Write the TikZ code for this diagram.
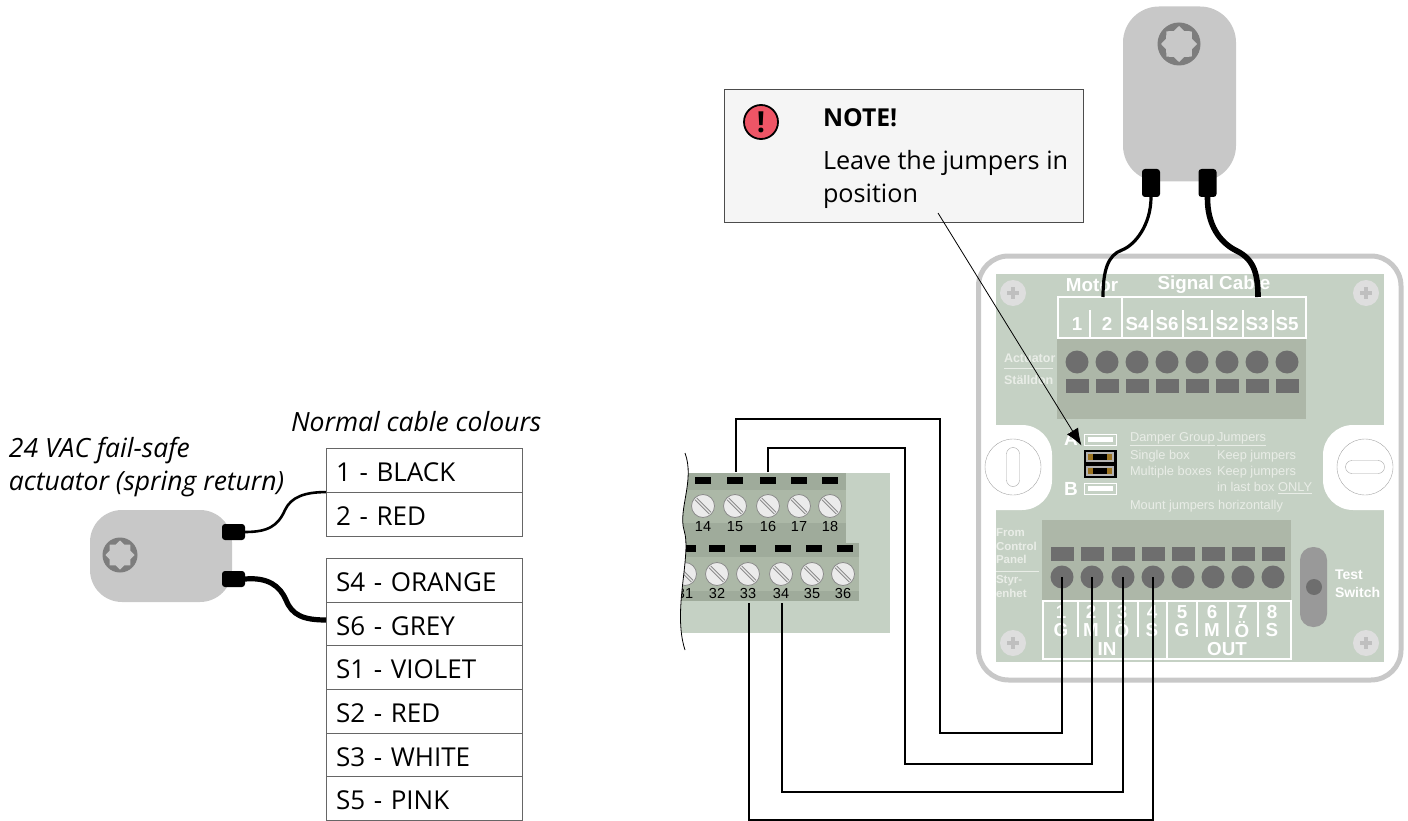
\documentclass[tikz,border=0pt]{standalone}
\usepackage{fontspec}
\setmainfont{Open Sans}
\newfontfamily\boxfont{Liberation Sans}
\usetikzlibrary{arrows.meta,shapes.geometric}
\tikzset{>={Latex[length=17pt,width=13pt]}}
\definecolor{panelgreen}{HTML}{C5D1C4}
\definecolor{blockgreen}{HTML}{ADB7A8}
\definecolor{darkband}{HTML}{9FAB9B}
\definecolor{midband}{HTML}{ACB8A7}
\definecolor{termgrey}{HTML}{6E6E6E}
\definecolor{actgrey}{HTML}{C8C8C8}
\definecolor{paletext}{HTML}{E9EDE7}
\definecolor{alertred}{HTML}{EE5566}
\definecolor{jumperbrown}{HTML}{9C7420}
\tikzstyle{plain}=[inner sep=0pt,outer sep=0pt]
\tikzstyle{tablecell}=[plain,draw=black!60,thick,fill=white,minimum width=196,minimum height=43.8,text width=176,text height=22,text depth=0,align=left,font=\fontsize{26}{30}\selectfont]
\tikzstyle{caption}=[plain,anchor=west,font=\fontsize{26.5}{30}\selectfont\itshape]
\tikzstyle{actuator}=[plain,fill=actgrey,rounded corners=32pt]
\tikzstyle{gearring}=[plain,circle,fill=termgrey!90]
\tikzstyle{gearstar}=[plain,star,star points=8,star point ratio=1.3,fill=actgrey]
\tikzstyle{plug}=[plain,fill=black,rounded corners=3pt]
\tikzstyle{thincable}=[line width=2.6pt]
\tikzstyle{thickcable}=[line width=5.2pt]
\tikzstyle{wire}=[line width=2.4pt]
\tikzstyle{termhole}=[plain,circle,fill=termgrey,minimum size=23]
\tikzstyle{termtab}=[plain,fill=termgrey,minimum width=23,minimum height=14]
\tikzstyle{blacktab}=[plain,fill=black,minimum width=16,minimum height=7]
\tikzstyle{boxlabel}=[plain,text=white,font=\boxfont\bfseries\fontsize{18.8}{22}\selectfont]
\tikzstyle{sidelabel}=[plain,anchor=west,text=paletext,font=\boxfont\bfseries\fontsize{11.5}{14}\selectfont]
\tikzstyle{jumpertext}=[plain,anchor=west,text=paletext,font=\boxfont\fontsize{12.8}{15}\selectfont]
\tikzstyle{notetext}=[plain,anchor=base west,font=\fontsize{25.2}{30}\selectfont]
\tikzstyle{whiteline}=[white,line width=1.5pt]
\tikzstyle{cornerscrew}=[plain,circle,fill=black!13,minimum size=26]
\tikzstyle{knockout}=[plain,circle,draw=black!35,fill=white,minimum size=56]
\tikzstyle{slot}=[plain,draw=black!35,fill=white,rounded corners=6.5pt]
\tikzstyle{screwhead}=[plain,circle,draw=black!45,thick,fill=black!8,minimum size=23]
\tikzstyle{screwcut}=[draw=black!45,double=black!8,double distance=1.4pt,line width=1pt]
\tikzstyle{termnum}=[plain,font=\boxfont\fontsize{14.5}{16}\selectfont]
\tikzstyle{jumpslot}=[plain,draw=white,minimum width=32,minimum height=11]
\tikzstyle{jumpfill}=[plain,fill=white,minimum width=25,minimum height=5.5]
\begin{document}
\begin{tikzpicture}[x=1pt,y=-1pt]
	\useasboundingbox (0,0) rectangle (1408,821);

	% cable table
	\node[caption] (title) at (9,450.5) {24 VAC fail-safe};
	\node[caption] (title2) at (9,484) {actuator (spring return)};
	\node[caption] (normal) at (291,422) {Normal cable colours};
	\node[tablecell] (rowm1) at (424,470) {1 - BLACK};
	\node[tablecell] (rowm2) at (424,514) {2 - RED};
	\node[tablecell] (rows4) at (424,580) {S4 - ORANGE};
	\node[tablecell] (rows6) at (424,624) {S6 - GREY};
	\node[tablecell] (rows1) at (424,667.5) {S1 - VIOLET};
	\node[tablecell] (rows2) at (424,711) {S2 - RED};
	\node[tablecell] (rows3) at (424,755) {S3 - WHITE};
	\node[tablecell] (rows5) at (424,798) {S5 - PINK};

	% actuator, left
	\node[actuator,minimum width=142,minimum height=92] (actleft) at (161,556) {};
	\node[gearring,minimum size=35] (gearleft) at (120,555) {};
	\node[gearstar,minimum size=29] (starleft) at (120,555) {};
	\node[plug,minimum width=23,minimum height=16] (plugl1) at (233.5,532) {};
	\node[plug,minimum width=23,minimum height=16] (plugl2) at (233.5,579) {};
	\draw[thincable] (plugl1.east) .. controls (268,532) and (278,526) .. (285,510) .. controls (291,497) and (305,492) .. (rowm2.north west);
	\draw[thickcable] (plugl2.east) .. controls (268,577) and (280,586) .. (286,600) .. controls (292,615) and (303,620) .. ([yshift=4pt]rows6.west);

	% control panel terminals
	\fill[panelgreen] (680,473) rectangle (890,633);
	\fill[darkband] (680,473) rectangle (846,543);
	\fill[midband] (680,490) rectangle (846,523);
	\fill[darkband] (680,543) rectangle (859,601);
	\fill[midband] (680,557) rectangle (859,591);
	\foreach \nr/\x in {14/703,15/735,16/768,17/799,18/830} {
		\node[blacktab] (tabu\nr) at (\x,480.5) {};
		\node[screwhead] (scr\nr) at (\x,506) {};
		\draw[screwcut] (\x-7,506-7) -- (\x+7,506+7);
		\node[termnum] (num\nr) at (\x,527) {\nr};
	}
	\foreach \nr/\x/\t in {31/685/688,32/717/717,33/748/748,34/781/783,35/812/814,36/843/845} {
		\node[blacktab] (tabl\nr) at (\t,548) {};
		\node[screwhead] (scr\nr) at (\x,574) {};
		\draw[screwcut] (\x-7,574-7) -- (\x+7,574+7);
		\node[termnum] (num\nr) at (\x,594) {\nr};
	}
	\fill[white] (685,453) .. controls (695,480) and (678,510) .. (684,530) .. controls (692,555) and (672,610) .. (685,650) -- (660,650) -- (660,453) -- cycle;
	\draw[thick] (685,453) .. controls (695,480) and (678,510) .. (684,530) .. controls (692,555) and (672,610) .. (685,650);

	% junction box
	\fill[panelgreen] (996,274) rectangle (1384,662);
	\fill[white,rounded corners=30pt] (960,425) rectangle (1052,510);
	\fill[white,rounded corners=30pt] (1323,425) rectangle (1420,510);
	\fill[white] (960,400) rectangle (995,540);
	\fill[white] (1385,400) rectangle (1420,540);
	\draw[actgrey,line width=5pt,rounded corners=30pt] (978.5,256) rectangle (1401,680);
	\foreach \nr/\x/\y in {1/1013/293,2/1366/293,3/1013/643,4/1366/643} {
		\node[cornerscrew] (corner\nr) at (\x,\y) {};
		\draw[black!25,line width=3.5pt] (\x-6,\y) -- (\x+6,\y);
		\draw[black!25,line width=3.5pt] (\x,\y-6) -- (\x,\y+6);
	}
	\node[knockout] (koleft) at (1013,467) {};
	\node[slot,minimum width=13,minimum height=39] (slotleft) at (1013,467) {};
	\node[knockout] (koright) at (1365,467) {};
	\node[slot,minimum width=39,minimum height=13] (slotright) at (1365,467) {};

	% actuator terminals
	\fill[blockgreen] (1057,338) rectangle (1306,419);
	\node[boxlabel] (motor) at (1092,285) {Motor};
	\node[boxlabel] (signal) at (1214,285) {Signal Cable};
	\draw[whiteline] (1058,297) rectangle (1306,338);
	\draw[whiteline] (1122,297) -- (1122,338);
	\foreach \x in {1090,1152,1183,1212,1243,1273}
		\draw[whiteline] (\x,310) -- (\x,338);
	\foreach \nr/\x/\t in {1/1077/1,2/1107/2,3/1137/S4,4/1167/S6,5/1197/S1,6/1227/S2,7/1257/S3,8/1287/S5} {
		\node[boxlabel] (lab\nr) at (\x,324) {\t};
		\node[termhole] (hole\nr) at (\x,362) {};
		\node[termtab] (tab\nr) at (\x,386) {};
	}
	\node[sidelabel,font=\boxfont\bfseries\fontsize{12.5}{15}\selectfont] (actuatorlab) at (1004,358) {Actuator};
	\node[sidelabel,font=\boxfont\bfseries\fontsize{12.5}{15}\selectfont] (stalldon) at (1004,380) {Ställdon};
	\draw[paletext,thick] (1004,368) -- (1053,368);

	% jumpers
	\node[boxlabel,font=\boxfont\bfseries\fontsize{19}{22}\selectfont] (laba) at (1071,439) {A};
	\node[boxlabel,font=\boxfont\bfseries\fontsize{19}{22}\selectfont] (labb) at (1071,489) {B};
	\node[jumpslot] (slota) at (1100.5,439.5) {};
	\node[jumpfill] (filla) at (1100.5,439.5) {};
	\node[jumpslot] (slotb) at (1100.5,488.5) {};
	\node[jumpfill] (fillb) at (1100.5,488.5) {};
	\node[plain,fill=black,minimum width=33,minimum height=28] (jumpblock) at (1100.5,464) {};
	\foreach \nr/\y in {1/457,2/471} {
		\node[plain,fill=black!30,minimum width=28,minimum height=10] (jumper\nr) at (1100,\y) {};
		\node[plain,fill=jumperbrown,minimum width=24,minimum height=6] (jumperb\nr) at (1100,\y) {};
		\node[plain,fill=black,minimum width=14,minimum height=6] (jumperk\nr) at (1100,\y) {};
	}
	\node[jumpertext] (jt1) at (1130,439) {\underline{Damper Group}};
	\node[jumpertext] (jt2) at (1217,439) {\underline{Jumpers}};
	\node[jumpertext] (jt3) at (1130,456) {Single box};
	\node[jumpertext] (jt4) at (1217,456) {Keep jumpers};
	\node[jumpertext] (jt5) at (1130,472) {Multiple boxes};
	\node[jumpertext] (jt6) at (1217,472) {Keep jumpers};
	\node[jumpertext] (jt7) at (1217,488) {in last box \underline{ONLY}};
	\node[jumpertext] (jt8) at (1130,506) {Mount jumpers horizontally};

	% input terminals
	\fill[blockgreen] (1042,520) rectangle (1291,600);
	\draw[whiteline] (1043,601) rectangle (1291,659);
	\draw[whiteline] (1167,601) -- (1167,659);
	\foreach \x in {1078,1108,1138,1197,1228,1258}
		\draw[whiteline] (\x,601) -- (\x,637);
	\foreach \nr/\x/\t in {1/1062/G,2/1092/M,3/1123/Ö,4/1153/S,5/1183/G,6/1213/M,7/1243/Ö,8/1273/S} {
		\node[termtab] (itab\nr) at (\x,554) {};
		\node[termhole] (in\nr) at (\x,577) {};
		\node[boxlabel] (inum\nr) at (\x-1,612) {\nr};
		\node[boxlabel] (ilet\nr) at (\x-1,630) {\t};
	}
	\node[boxlabel] (labin) at (1107,649) {IN};
	\node[boxlabel] (labout) at (1227,649) {OUT};
	\node[sidelabel] (from1) at (996,533) {From};
	\node[sidelabel] (from2) at (996,546) {Control};
	\node[sidelabel] (from3) at (996,559) {Panel};
	\draw[paletext,thick] (996,571) -- (1039,571);
	\node[sidelabel] (styr1) at (996,581) {Styr-};
	\node[sidelabel] (styr2) at (996,593) {enhet};

	% test switch
	\node[plain,fill=black!40,rounded corners=13pt,minimum width=27,minimum height=80] (switch) at (1313.5,587) {};
	\node[plain,circle,fill=termgrey,minimum size=16] (switchknob) at (1314,587) {};
	\node[sidelabel,font=\boxfont\bfseries\fontsize{14}{16}\selectfont,text=white] (test) at (1335,575) {Test};
	\node[sidelabel,font=\boxfont\bfseries\fontsize{14}{16}\selectfont,text=white] (swlab) at (1335,592) {Switch};

	% actuator, top
	\node[actuator,rounded corners=36pt,minimum width=113,minimum height=175] (acttop) at (1179.5,94) {};
	\node[gearring,minimum size=43] (geartop) at (1179,44) {};
	\node[gearstar,minimum size=36] (startop) at (1179,44) {};
	\node[plug,minimum width=18,minimum height=28] (plugt1) at (1151,183) {};
	\node[plug,minimum width=18,minimum height=28] (plugt2) at (1207.5,183) {};
	\coordinate (motor2) at (1103,297);
	\coordinate (sig3) at (1258,297);
	\draw[thincable,line width=3.2pt] (plugt1.south) .. controls (1151,225) and (1135,245) .. (1122,250) .. controls (1108,255) and (1103,270) .. (motor2);
	\draw[thickcable,line width=5.6pt] (plugt2.south) .. controls (1207,225) and (1220,242) .. (1235,250) .. controls (1252,258) and (1258,270) .. (sig3);

	% wiring
	\coordinate (w15) at (736,472);
	\coordinate (w16) at (768,472);
	\coordinate (w33) at (749,603);
	\coordinate (w34) at (782,603);
	\draw[wire] (w15) |- (940,419) -- (940,733) -| (in1.center);
	\draw[wire] (w16) |- (905,448) -- (905,764) -| (in2.center);
	\draw[wire] (w34) |- (in3.center |- 0,792) -- (in3.center);
	\draw[wire] (w33) |- (in4.center |- 0,820) -- (in4.center);

	% note
	\node[plain,draw=black!70,fill=black!4,minimum width=359,minimum height=133] (note) at (903.5,155.5) {};
	\node[plain,circle,draw=black,line width=1.8pt,fill=alertred,minimum size=34,font=\bfseries\fontsize{29}{30}\selectfont] (alert) at (761,122) {!};
	\node[notetext,font=\bfseries\fontsize{24.7}{30}\selectfont] (notehead) at (823,126.5) {NOTE!};
	\node[notetext] (notetext1) at (823,170) {Leave the jumpers in};
	\node[notetext] (notetext2) at (823,203) {position};
	\coordinate (noteanchor) at (938,213);
	\draw[->,thick] (noteanchor) -- ([xshift=-3pt,yshift=-6pt]slota.west);
\end{tikzpicture}
\end{document}
